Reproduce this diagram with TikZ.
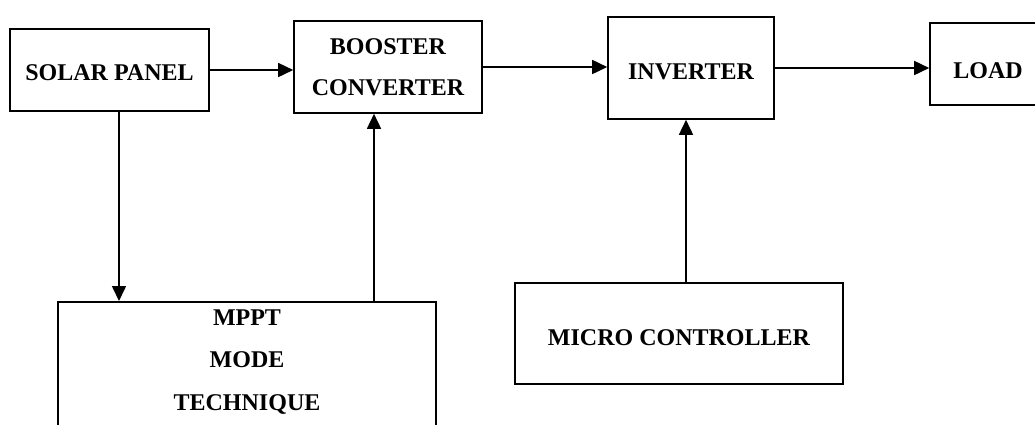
\documentclass[tikz,border=0pt]{standalone}
\usepackage{fontspec}
\setmainfont{Liberation Serif}
\usetikzlibrary{arrows.meta, positioning, calc}

\tikzset{
  blk/.style={draw, line width=1.6pt, fill=white, inner sep=0pt},
  blktext/.style={font=\fontsize{24}{41}\selectfont\bfseries, align=center, inner sep=0pt},
  lowtext/.style={text height=#1, text depth=1pt},
  flow/.style={-{Triangle[length=15pt, width=14pt]}, line width=1.6pt}
}

\begin{document}
\begin{tikzpicture}[x=1pt, y=-1pt]
    \useasboundingbox (0,0) rectangle (1035,424);

    \node[blk, blktext, lowtext=21pt, minimum width=199, minimum height=82] (solar) at (109.5,70) {SOLAR PANEL};
    \node[blk, blktext, minimum width=188, minimum height=92] (boost) at (388,67) {BOOSTER\\CONVERTER};
    \node[blk, blktext, lowtext=23pt, minimum width=166, minimum height=102] (inv) at (691,68) {INVERTER};
    \node[blk, blktext, lowtext=30pt, minimum width=116, minimum height=82] (load) at (988,64) {LOAD};
    \node[blk, minimum width=378, minimum height=140, anchor=north] (mppt) at (247,301) {};
    \node[blktext, font=\fontsize{24}{42.5}\selectfont\bfseries] (mpptlbl) at (247,362) {MPPT\\MODE\\TECHNIQUE};
    \node[blk, blktext, lowtext=24pt, minimum width=328, minimum height=101] (mcu) at (679,333.5) {MICRO CONTROLLER};

    % power path
    \draw[flow] (solar.east) -- (solar.east -| boost.west);
    \draw[flow] (boost.east) -- (boost.east -| inv.west);
    \draw[flow] (inv.east) -- (inv.east -| load.west);

    % control loop
    \coordinate (sense) at ($(solar.south)+(9.5,0)$);
    \coordinate (duty) at ($(boost.south)+(-14,0)$);
    \coordinate (gate) at ($(inv.south)+(-5,0)$);
    \draw[flow] (sense) -- (sense |- mppt.north);
    \draw[flow] (duty |- mppt.north) -- (duty);
    \draw[flow] (gate |- mcu.north) -- (gate);
\end{tikzpicture}
\end{document}
